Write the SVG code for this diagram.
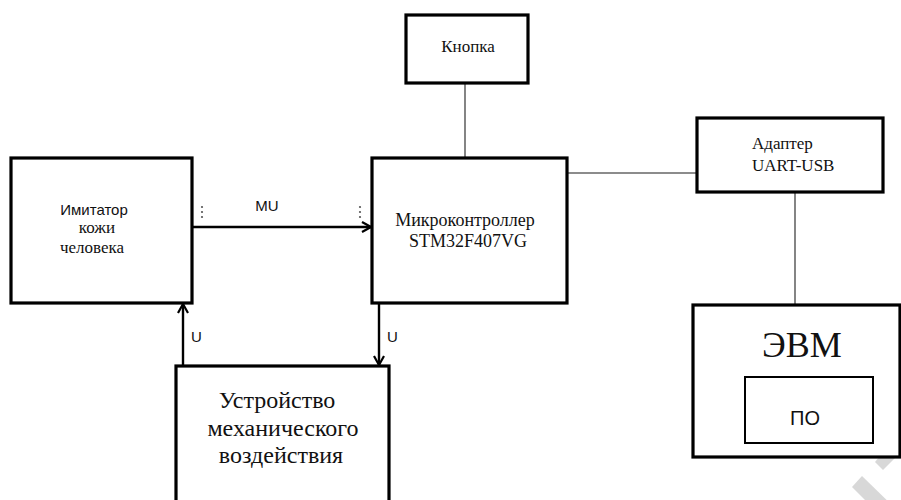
<svg xmlns="http://www.w3.org/2000/svg" width="901" height="500" viewBox="0 0 901 500">
<defs>
<style>
.box{fill:#fff;stroke:#000;stroke-width:3.2}
.inner{fill:#fff;stroke:#000;stroke-width:2}
.serif{font-family:"Liberation Serif","Times New Roman",serif;fill:#111}
.sans{font-family:"Liberation Sans",Arial,sans-serif;fill:#111}
.link{stroke:#666;stroke-width:1.6;fill:none}
.arrow{stroke:#000;stroke-width:2.4;fill:none;marker-end:url(#head)}
.dot{fill:#555}
.wm{fill:#d8d8d8}
</style>
<marker id="head" viewBox="0 0 12 12" refX="11" refY="6" markerWidth="12" markerHeight="12" markerUnits="userSpaceOnUse" orient="auto">
<polyline points="2,1 11,6 2,11" fill="none" stroke="#000" stroke-width="2.2"/>
</marker>
</defs>
<rect width="901" height="500" fill="#fff"/>

<g id="watermark">
<polygon class="wm" points="875,462 901,430 901,452 883,470"/>
<polygon class="wm" points="852,487 862,476 901,514 901,536"/>
</g>

<g id="connectors">
<line class="link" x1="465" y1="83" x2="465" y2="158"/>
<line class="link" x1="567" y1="173" x2="697" y2="173"/>
<line class="link" x1="795" y1="192" x2="795" y2="305"/>
<line class="arrow" x1="192" y1="227" x2="371" y2="227"/>
<line class="arrow" x1="183" y1="366" x2="183" y2="304"/>
<line class="arrow" x1="379" y1="303" x2="379" y2="365"/>
<circle class="dot" cx="202" cy="207" r="1.1"/>
<circle class="dot" cx="202" cy="212" r="1.1"/>
<circle class="dot" cx="202" cy="217" r="1.1"/>
<circle class="dot" cx="360" cy="207" r="1.1"/>
<circle class="dot" cx="360" cy="212" r="1.1"/>
<circle class="dot" cx="360" cy="217" r="1.1"/>
<text class="sans" x="267" y="211" font-size="15" text-anchor="middle">MU</text>
<text class="sans" x="191" y="342" font-size="15">U</text>
<text class="sans" x="387" y="342" font-size="15">U</text>
</g>

<g id="imitator">
<rect class="box" x="11" y="158" width="181" height="145"/>
<text class="sans" x="94" y="215" font-size="15" text-anchor="middle">Имитатор</text>
<text class="serif" x="97" y="233" font-size="17" text-anchor="middle">кожи</text>
<text class="serif" x="92" y="253" font-size="17" text-anchor="middle">человека</text>
</g>

<g id="knopka">
<rect class="box" x="406" y="15" width="122" height="68"/>
<text class="serif" x="468" y="52" font-size="17" text-anchor="middle">Кнопка</text>
</g>

<g id="mcu">
<rect class="box" x="372" y="158" width="195" height="145"/>
<text class="serif" x="465" y="226" font-size="18" text-anchor="middle">Микроконтроллер</text>
<text class="serif" x="468" y="247" font-size="18" text-anchor="middle">STM32F407VG</text>
</g>

<g id="adapter">
<rect class="box" x="697" y="118" width="186" height="74"/>
<text class="serif" x="752" y="149" font-size="17">Адаптер</text>
<text class="serif" x="752" y="171" font-size="17">UART-USB</text>
</g>

<g id="device">
<rect class="box" x="176" y="366" width="213" height="140"/>
<text class="serif" x="277" y="408" font-size="24" text-anchor="middle">Устройство</text>
<text class="serif" x="283" y="436" font-size="24" text-anchor="middle">механического</text>
<text class="serif" x="281" y="463" font-size="24" text-anchor="middle">воздействия</text>
</g>

<g id="evm">
<rect class="box" x="693" y="305" width="207" height="152"/>
<text class="serif" x="802" y="357" font-size="36" text-anchor="middle">ЭВМ</text>
<g id="po">
<rect class="inner" x="745" y="377" width="128" height="66"/>
<text class="sans" x="805" y="425" font-size="20" text-anchor="middle">ПО</text>
</g>
</g>
</svg>
